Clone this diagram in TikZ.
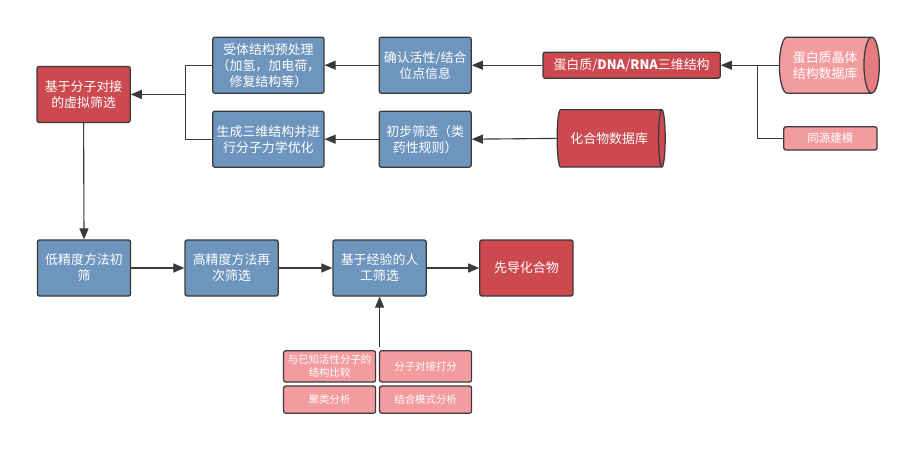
\documentclass[tikz,border=0pt]{standalone}
\usepackage{fontspec}
\setmainfont{Noto Sans CJK SC}
\usetikzlibrary{arrows,shapes.geometric}
\definecolor{steelblue}{RGB}{109, 149, 189}
\definecolor{brickred}{RGB}{204, 74, 79}
\definecolor{rosepink}{RGB}{243, 156, 160}
\definecolor{rosedark}{RGB}{229, 122, 127}
\definecolor{edgegray}{RGB}{58, 58, 58}
\tikzset{
  box/.style={draw=edgegray, line width=0.9pt, rounded corners=1.5pt, inner sep=0pt,
              text=white, align=center, font=\fontsize{9.2}{11.4}\selectfont},
  bluebox/.style={box, fill=steelblue, minimum width=2.33cm, minimum height=1.40cm},
  redbox/.style={box, fill=brickred, minimum width=2.33cm, minimum height=1.40cm},
  pinkbox/.style={box, fill=rosepink, minimum width=2.30cm, font=\fontsize{7.4}{9.2}\selectfont},
  drum/.style={cylinder, draw=edgegray, line width=0.9pt, inner sep=0pt, aspect=0.55,
               text=white, align=center, font=\fontsize{9.2}{11.4}\selectfont,
               cylinder uses custom fill},
  link/.style={draw=edgegray, line width=0.8pt},
  flow/.style={link, -triangle 45}
}
\begin{document}
\begin{tikzpicture}
        \useasboundingbox[fill=white] (0.00, 0.00) rectangle (22.95,-11.375);
        % upper part
        \node[redbox]  (dock)   at ( 2.09,-2.36) {基于分子对接\\的虚拟筛选};
        \node[bluebox, minimum width=2.78cm] (prep) at ( 6.71,-1.63) {受体结构预处理\\（加氢，加电荷，\\修复结构等）};
        \node[bluebox, minimum width=2.78cm] (gen)  at ( 6.71,-3.48) {生成三维结构并进\\行分子力学优化};
        \node[bluebox, minimum width=2.30cm] (site) at (10.63,-1.63) {确认活性/结合\\位点信息};
        \node[bluebox, minimum width=2.30cm] (filt) at (10.63,-3.48) {初步筛选（类\\药性规则）};
        \node[redbox, minimum width=4.43cm, minimum height=0.65cm] (struct) at (15.79,-1.63)
             {蛋白质/{\bfseries DNA}/{\bfseries RNA}三维结构};
        \node[drum, cylinder body fill=rosepink, cylinder end fill=rosedark,
              minimum height=2.50cm, minimum width=1.40cm] (pdb) at (20.63,-1.63) {蛋白质晶体\\结构数据库};
        \node[pinkbox, minimum width=2.33cm, minimum height=0.58cm,
              font=\fontsize{8.2}{10}\selectfont] (homo) at (20.76,-3.46) {同源建模};
        \node[drum, cylinder body fill=brickred, cylinder end fill=brickred,
              minimum height=2.70cm, minimum width=1.43cm] (cdb) at (15.23,-3.46) {化合物数据库};
        \coordinate (j1) at ( 4.63,-2.36);
        \coordinate (j2) at (18.93,-1.63);
        % lower part
        \node[bluebox] (low)    at ( 2.10,-6.70) {低精度方法初\\筛};
        \node[bluebox] (high)   at ( 5.79,-6.70) {高精度方法再\\次筛选};
        \node[bluebox] (manual) at ( 9.49,-6.70) {基于经验的人\\工筛选};
        \node[redbox]  (lead)   at (13.16,-6.70) {先导化合物};
        \node[pinkbox, minimum height=0.78cm] (known) at ( 8.24,-9.16) {与已知活性分子的\\结构比较};
        \node[pinkbox, minimum height=0.78cm] (score) at (10.64,-9.16) {分子对接打分};
        \node[pinkbox, minimum height=0.68cm] (clus)  at ( 8.24,-9.99) {聚类分析};
        \node[pinkbox, minimum height=0.68cm] (mode)  at (10.64,-9.99) {结合模式分析};
        \coordinate (grp) at ( 9.49,-8.68);
        % connectors
        \draw[flow] (site.west) -- (prep.east);
        \draw[flow] (filt.west) -- (gen.east);
        \draw[flow] (struct.west) -- (site.east);
        \draw[flow] (cdb.west) -- (filt.east);
        \draw[flow] (pdb.west) -- (struct.east);
        \draw[link] (homo.west) -| (j2);
        \draw[link] (prep.west) -| (j1);
        \draw[link] (gen.west) -| (j1);
        \draw[flow] (j1) -- (dock.east);
        \draw[flow] (dock.south) -- (low.north);
        \draw[flow] (low.east) -- (high.west);
        \draw[flow] (high.east) -- (manual.west);
        \draw[flow] (manual.east) -- (lead.west);
        \draw[flow] (grp) -- (manual.south);
\end{tikzpicture}
\end{document}
